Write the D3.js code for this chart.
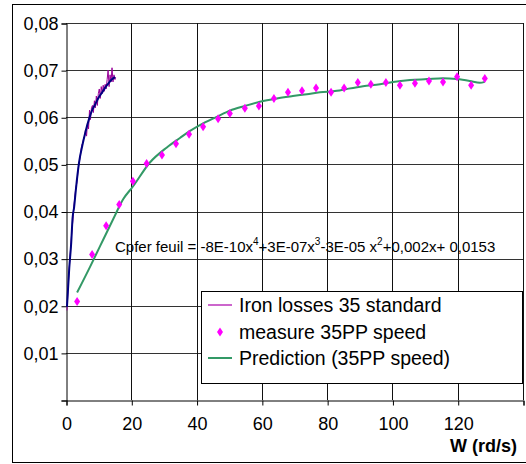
<!DOCTYPE html>
<html>
<head>
<meta charset="utf-8">
<script src="https://cdn.jsdelivr.net/npm/d3@7"></script>
<style>
  body { margin: 0; background: #fff; }
  svg { display: block; font-family: "Liberation Sans", Arial, sans-serif; }
</style>
</head>
<body>
<svg id="chart" width="526" height="464"></svg>
<script>
// measured points (35PP speed)
const measureX = [3.4, 8.0, 12.3, 16.3, 20.5, 24.7, 29.4, 33.7, 37.7, 42.0, 46.6, 50.2, 54.8, 59.1, 63.7, 68.0, 72.3, 76.6, 81.2, 85.2, 89.4, 93.4, 98.0, 102.3, 106.9, 111.2, 115.5, 119.8, 124.1, 128.3];
const measureY = [0.0209, 0.0309, 0.037, 0.0415, 0.0464, 0.0502, 0.052, 0.0544, 0.0564, 0.058, 0.0597, 0.0608, 0.0619, 0.0624, 0.064, 0.0653, 0.0656, 0.0662, 0.0653, 0.0662, 0.0674, 0.067, 0.0674, 0.0668, 0.0672, 0.0677, 0.0675, 0.0686, 0.0668, 0.0682];

// prediction line
const predX = [3.4, 7.4, 10.4, 14.4, 17.5, 20.5, 25.7, 30.9, 34.9, 38, 42, 46.2, 50.2, 54.8, 59.4, 64.6, 69.5, 73.8, 77.8, 83, 86, 91, 96.2, 100.2, 105.4, 110.6, 115.5, 119.8, 123.7, 126.8, 128.3];
const predY = [0.0228, 0.0283, 0.0326, 0.0383, 0.0426, 0.0453, 0.0504, 0.0536, 0.0556, 0.0571, 0.0587, 0.0601, 0.0614, 0.0624, 0.0633, 0.064, 0.0645, 0.0649, 0.0653, 0.0656, 0.066, 0.0666, 0.067, 0.0675, 0.0679, 0.0681, 0.0683, 0.0681, 0.0677, 0.0673, 0.0675];

// iron losses 35 standard (noisy)
const ironX = [0.3, 0.6, 0.9, 1.2, 1.5, 1.8, 2.1, 2.4, 2.7, 3.0, 3.3, 3.6, 3.9, 4.2, 4.5, 4.8, 5.1, 5.4, 5.7, 6.0, 6.3, 6.6, 6.9, 7.2, 7.5, 7.8, 8.1, 8.4, 8.7, 9.0, 9.3, 9.6, 9.9, 10.2, 10.5, 10.8, 11.1, 11.4, 11.7, 12.0, 12.3, 12.6, 12.9, 13.2, 13.5, 13.8, 14.1, 14.4, 14.7, 15.0, 15.2];
const ironY = [0.019, 0.023, 0.027, 0.030, 0.033, 0.036, 0.038, 0.041, 0.043, 0.045, 0.046, 0.048, 0.050, 0.051, 0.0525, 0.054, 0.0545, 0.0555, 0.056, 0.0575, 0.056, 0.059, 0.0575, 0.0615, 0.0595, 0.062, 0.0625, 0.061, 0.0635, 0.062, 0.0645, 0.0625, 0.065, 0.066, 0.064, 0.0665, 0.065, 0.0668, 0.0655, 0.067, 0.066, 0.068, 0.070, 0.0665, 0.069, 0.0675, 0.0705, 0.0675, 0.069, 0.068, 0.0685];

// trend of iron losses
const trendX = [0.3, 1, 1.6, 2, 2.5, 3, 4, 5, 6, 7, 8, 9, 10, 11, 12, 13, 14, 15];
const trendY = [0.0198, 0.028, 0.0334, 0.0385, 0.041, 0.0445, 0.0504, 0.054, 0.057, 0.0595, 0.0615, 0.0628, 0.0642, 0.0652, 0.0663, 0.0672, 0.068, 0.0685];

const xTicks = [0, 20, 40, 60, 80, 100, 120, 140];
const xLabels = ["0", "20", "40", "60", "80", "100", "120", ""];
const yTicks = [0, 0.01, 0.02, 0.03, 0.04, 0.05, 0.06, 0.07, 0.08];
const yLabels = ["", "0,01", "0,02", "0,03", "0,04", "0,05", "0,06", "0,07", "0,08"];

const legendNames = ["Iron losses 35 standard", "measure 35PP speed", "Prediction (35PP speed)"];

const svg = d3.select("#chart");
const x = d3.scaleLinear().domain([0, 140]).range([66, 523]);
const y = d3.scaleLinear().domain([0, 0.08]).range([400, 23]);

// outer frame
svg.append("rect").attr("x", 12.5).attr("y", 4.5).attr("width", 520).attr("height", 458)
  .attr("fill", "none").attr("stroke", "#000").attr("stroke-width", 1);

// grid
const grid = svg.append("g");
grid.selectAll("line.h").data(yTicks.slice(1)).join("line")
  .attr("x1", x(0)).attr("x2", x(140))
  .attr("y1", d => Math.round(y(d)) + 0.5).attr("y2", d => Math.round(y(d)) + 0.5)
  .attr("stroke", "#333").attr("stroke-width", 1);
grid.selectAll("line.v").data(xTicks.slice(1)).join("line")
  .attr("y1", y(0.08)).attr("y2", y(0))
  .attr("x1", d => Math.round(x(d)) + 0.5).attr("x2", d => Math.round(x(d)) + 0.5)
  .attr("stroke", "#111").attr("stroke-width", 1);

// axes
const xAxis = svg.append("g").attr("transform", `translate(0.5,${Math.round(y(0)) + 0.5})`)
  .call(d3.axisBottom(x).tickValues(xTicks).tickFormat((d, i) => xLabels[i]).tickSize(5).tickPadding(12));
const yAxis = svg.append("g").attr("transform", `translate(${Math.round(x(0)) + 0.5},0.5)`)
  .call(d3.axisLeft(y).tickValues(yTicks).tickFormat((d, i) => yLabels[i]).tickSize(5).tickPadding(3));
[xAxis, yAxis].forEach(a => {
  a.select(".domain").attr("stroke", "#000");
  a.selectAll("line").attr("stroke", "#000");
  a.selectAll("text").attr("font-family", "Liberation Sans, Arial, sans-serif")
    .attr("font-size", 18).attr("fill", "#000");
});

// equation
const eq = svg.append("text").attr("x", 115).attr("y", 252)
  .attr("font-size", 15).attr("fill", "#000");
const eqParts = [["Cpfer feuil = -8E-10x", false], ["4", true], ["+3E-07x", false], ["3", true],
  ["-3E-05 x", false], ["2", true], ["+0,002x+ 0,0153", false]];
eqParts.forEach(([t, sup], i) => {
  let dy = 0;
  if (sup) dy = -7;
  else if (i > 0 && eqParts[i - 1][1]) dy = 7;
  eq.append("tspan").text(t).attr("font-size", sup ? 10 : 15).attr("dy", dy);
});

// series
const lineGen = d3.line().x(d => x(d[0])).y(d => y(d[1]));
const ironData = ironX.map((v, i) => [v, ironY[i]]);
const trendData = trendX.map((v, i) => [v, trendY[i]]);
const predData = predX.map((v, i) => [v, predY[i]]);
const measData = measureX.map((v, i) => [v, measureY[i]]);

svg.append("path").datum(ironData).attr("d", lineGen)
  .attr("fill", "none").attr("stroke", "#990099").attr("stroke-width", 1);
svg.append("path").datum(trendData).attr("d", d3.line().x(d => x(d[0])).y(d => y(d[1])).curve(d3.curveMonotoneX))
  .attr("fill", "none").attr("stroke", "#000080").attr("stroke-width", 2);
svg.append("path").datum(predData).attr("d", d3.line().x(d => x(d[0])).y(d => y(d[1])).curve(d3.curveMonotoneX))
  .attr("fill", "none").attr("stroke", "#339966").attr("stroke-width", 2);

const diamond = (cx, cy) => `M${cx},${cy - 4.5}L${cx + 3},${cy}L${cx},${cy + 4.5}L${cx - 3},${cy}Z`;
svg.append("g").selectAll("path").data(measData).join("path")
  .attr("d", d => diamond(x(d[0]), y(d[1])))
  .attr("fill", "#FF00FF");

// legend
const lg = svg.append("g");
lg.append("rect").attr("x", 201.5).attr("y", 291.5).attr("width", 321).attr("height", 92)
  .attr("fill", "#fff").attr("stroke", "#000");
const rowY = [305, 332, 358];
lg.append("line").attr("x1", 208).attr("x2", 232).attr("y1", rowY[0]).attr("y2", rowY[0])
  .attr("stroke", "#cc66cc").attr("stroke-width", 2);
lg.append("path").attr("d", diamond(220, rowY[1])).attr("fill", "#FF00FF");
lg.append("line").attr("x1", 208).attr("x2", 232).attr("y1", rowY[2]).attr("y2", rowY[2])
  .attr("stroke", "#339966").attr("stroke-width", 2);
lg.selectAll("text").data(legendNames).join("text")
  .attr("x", 239).attr("y", (d, i) => rowY[i] + 7)
  .attr("font-size", 19.5).attr("fill", "#000").text(d => d);

// axis title
svg.append("text").attr("x", 517).attr("y", 452).attr("text-anchor", "end")
  .attr("font-size", 18).attr("font-weight", "bold").text("W (rd/s)");
</script>
</body>
</html>
